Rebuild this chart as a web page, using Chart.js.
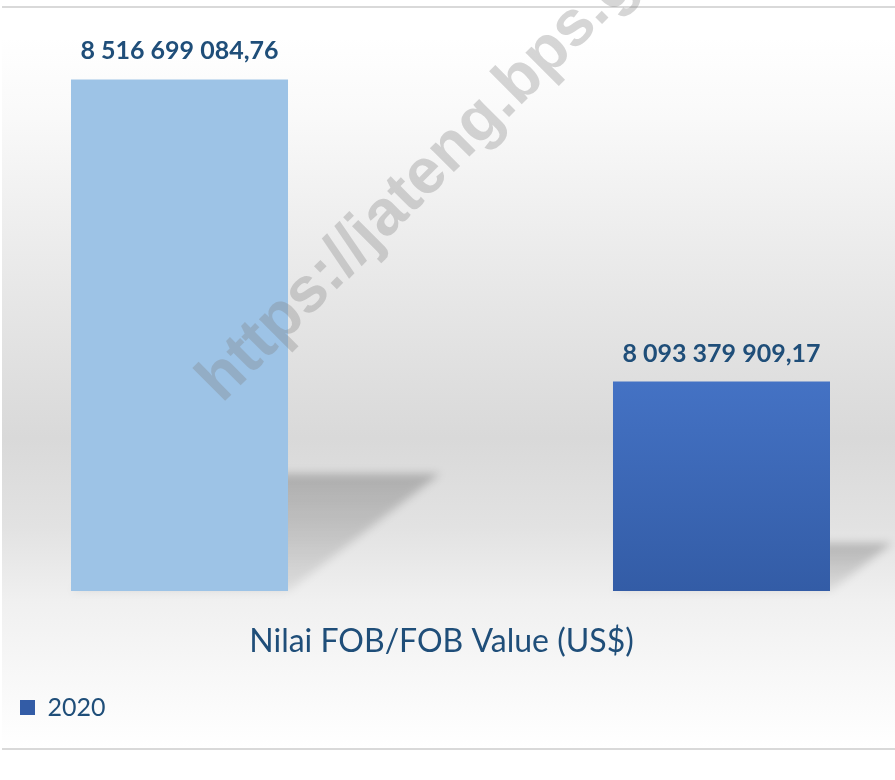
<!DOCTYPE html>
<html>
    <head>
        <meta charset="utf-8">
        <style>
            body { margin: 0; background: #ffffff; }
            #wrap { width: 895px; height: 780px; }
        </style>
    </head>
    <body>
        <div id="wrap">
            <canvas id="chart" width="895" height="780"></canvas>
        </div>
    </body>
    <script src="https://cdn.jsdelivr.net/npm/chart.js@4"></script>
    <script>
        // data
        const categories = ["Nilai FOB/FOB Value (US$)"];
        const seriesNames = ["2019", "2020"];
        const values2019 = [8516699084.76];
        const values2020 = [8093379909.17];
        const legendShown = ["2020"];
        const yMin = 7.8e9;
        const yMax = 8.6e9;

        const textColor = "#1f4e79";
        const fontName = "Lato, 'Open Sans', sans-serif";

        function formatValue(v) {
            const parts = v.toFixed(2).split(".");
            const intPart = parts[0].replace(/\B(?=(\d{3})+(?!\d))/g, " ");
            return intPart + "," + parts[1];
        }

        function darkBlue(context) {
            const area = context.chart.chartArea;
            if (!area) return "#3d68b6";
            const g = context.chart.ctx.createLinearGradient(0, 382, 0, area.bottom);
            g.addColorStop(0, "#4472c4");
            g.addColorStop(1, "#335ca6");
            return g;
        }

        const backgroundPlugin = {
            id: "bg",
            beforeDraw(chart) {
                const ctx = chart.ctx;
                ctx.save();
                ctx.fillStyle = "#ffffff";
                ctx.fillRect(0, 0, chart.width, chart.height);
                const g = ctx.createLinearGradient(0, 8, 0, 749);
                g.addColorStop(0.0, "#ffffff");
                g.addColorStop(0.04, "#ffffff");
                g.addColorStop(0.15, "#f9f9f9");
                g.addColorStop(0.33, "#ebebeb");
                g.addColorStop(0.58, "#d9d9d9");
                g.addColorStop(0.70, "#e2e2e2");
                g.addColorStop(0.80, "#f0f0f0");
                g.addColorStop(0.93, "#fafafa");
                g.addColorStop(1.0, "#ffffff");
                ctx.fillStyle = g;
                ctx.fillRect(2, 8, chart.width - 2, 741);
                ctx.fillStyle = "#d9d9d9";
                ctx.fillRect(2, 6, chart.width - 2, 2);
                ctx.fillRect(2, 748, chart.width - 2, 2);
                ctx.restore();
            }
        };

        // soft floor shadow behind each bar
        const shadowPlugin = {
            id: "barShadow",
            beforeDatasetsDraw(chart) {
                const ctx = chart.ctx;
                ctx.save();
                ctx.filter = "blur(4px)";
                chart.data.datasets.forEach((ds, i) => {
                    chart.getDatasetMeta(i).data.forEach(el => {
                        const p = el.getProps(["x", "y", "width"], true);
                        const base = chart.scales.y.getPixelForValue(yMin);
                        const h = base - p.y;
                        const dx = h * 0.297, dy = h * 0.229;
                        const left = p.x - p.width / 2, right = p.x + p.width / 2;
                        const g = ctx.createLinearGradient(0, base - dy, 0, base);
                        g.addColorStop(0, "rgba(0,0,0,0.21)");
                        g.addColorStop(1, "rgba(0,0,0,0.07)");
                        ctx.fillStyle = g;
                        ctx.beginPath();
                        ctx.moveTo(left, base);
                        ctx.lineTo(right, base);
                        ctx.lineTo(right + dx, base - dy);
                        ctx.lineTo(left + dx, base - dy);
                        ctx.closePath();
                        ctx.fill();
                    });
                });
                ctx.restore();
            }
        };

        const valueLabelPlugin = {
            id: "valueLabels",
            afterDatasetsDraw(chart) {
                const ctx = chart.ctx;
                ctx.save();
                ctx.font = "bold 25px " + fontName;
                ctx.fillStyle = textColor;
                ctx.textAlign = "center";
                ctx.textBaseline = "alphabetic";
                chart.data.datasets.forEach((ds, i) => {
                    chart.getDatasetMeta(i).data.forEach((el, j) => {
                        const p = el.getProps(["x", "y"], true);
                        ctx.fillText(formatValue(ds.data[j]), p.x, p.y - 20);
                    });
                });
                ctx.restore();
            }
        };

        const watermarkPlugin = {
            id: "watermark",
            afterDraw(chart) {
                const ctx = chart.ctx;
                ctx.save();
                ctx.translate(222, 404);
                ctx.rotate(-45 * Math.PI / 180);
                ctx.font = "bold 64px 'Liberation Sans', Arial, sans-serif";
                ctx.fillStyle = "rgba(128,128,128,0.32)";
                ctx.textBaseline = "alphabetic";
                ctx.fillText("https://jateng.bps.go.id", 0, 0);
                ctx.restore();
            }
        };

        const config = {
            type: "bar",
            data: {
                labels: categories,
                datasets: [
                    {
                        label: seriesNames[0],
                        data: values2019,
                        backgroundColor: "#9dc3e6",
                        borderWidth: 0
                    },
                    {
                        label: seriesNames[1],
                        data: values2020,
                        backgroundColor: darkBlue,
                        borderWidth: 0
                    }
                ]
            },
            options: {
                responsive: false,
                animation: false,
                layout: { padding: { left: 10, right: 4, top: 20, bottom: 50 } },
                datasets: {
                    bar: { categoryPercentage: 1.2304, barPercentage: 0.4004 }
                },
                scales: {
                    x: {
                        grid: { display: false, drawTicks: false },
                        border: { display: false },
                        ticks: {
                            color: textColor,
                            padding: 31,
                            labelOffset: -9,
                            font: { family: fontName, size: 32 }
                        },
                        afterFit(scale) { scale.height = 94; }
                    },
                    y: {
                        display: false,
                        min: yMin,
                        max: yMax
                    }
                },
                plugins: {
                    legend: {
                        position: "bottom",
                        align: "start",
                        labels: {
                            boxWidth: 15,
                            boxHeight: 15,
                            padding: 10,
                            color: textColor,
                            font: { family: fontName, size: 25 },
                            filter: item => legendShown.includes(item.text)
                        }
                    },
                    tooltip: { enabled: false }
                }
            },
            plugins: [backgroundPlugin, shadowPlugin, valueLabelPlugin, watermarkPlugin]
        };

        const chart = new Chart(document.getElementById("chart"), config);
    </script>
</html>
